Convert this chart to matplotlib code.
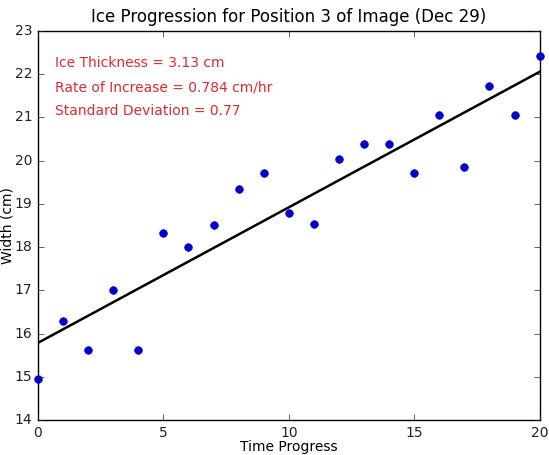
import numpy as np
import matplotlib
matplotlib.use('Agg')
import matplotlib.pyplot as plt

plt.style.use('classic')

# Width measurements at each time step
time = np.arange(0, 21)
width = [14.94, 16.29, 15.62, 17.00, 15.62, 18.32, 18.00, 18.51, 19.34, 19.71,
         18.79, 18.53, 20.04, 20.38, 20.38, 19.71, 21.06, 19.85, 21.73, 21.06, 22.42]
notes = ['Ice Thickness = 3.13 cm',
         'Rate of Increase = 0.784 cm/hr',
         'Standard Deviation = 0.77']

fig = plt.figure(figsize=(5.49, 4.55), dpi=100, facecolor='white')
ax = fig.add_axes([0.069, 0.077, 0.914, 0.855])

ax.plot(time, width, 'o', color='#0000cc', markeredgecolor='#0000cc', markersize=5.5, clip_on=False, zorder=3)
m, b = np.polyfit(time, width, 1)
ax.plot(time, m * time + b, color='black', linewidth=1.8)

for i, s in enumerate(notes):
    ax.text(0.68, 22.26 - 0.56 * i, s, color='#e02a32', fontsize=10, va='center')

ax.set_xlim(0, 20)
ax.set_ylim(14, 23)
ax.set_xticks([0, 5, 10, 15, 20])
ax.tick_params(labelsize=10, colors='#222222')
ax.set_title('Ice Progression for Position 3 of Image (Dec 29)', fontsize=12, y=1.005)
ax.set_xlabel('Time Progress', fontsize=10, labelpad=0)
ax.set_ylabel('Width (cm)', fontsize=10)
ax.yaxis.set_label_coords(-0.047, 0.5)

fig.savefig('out.png', dpi=100, facecolor='white')
